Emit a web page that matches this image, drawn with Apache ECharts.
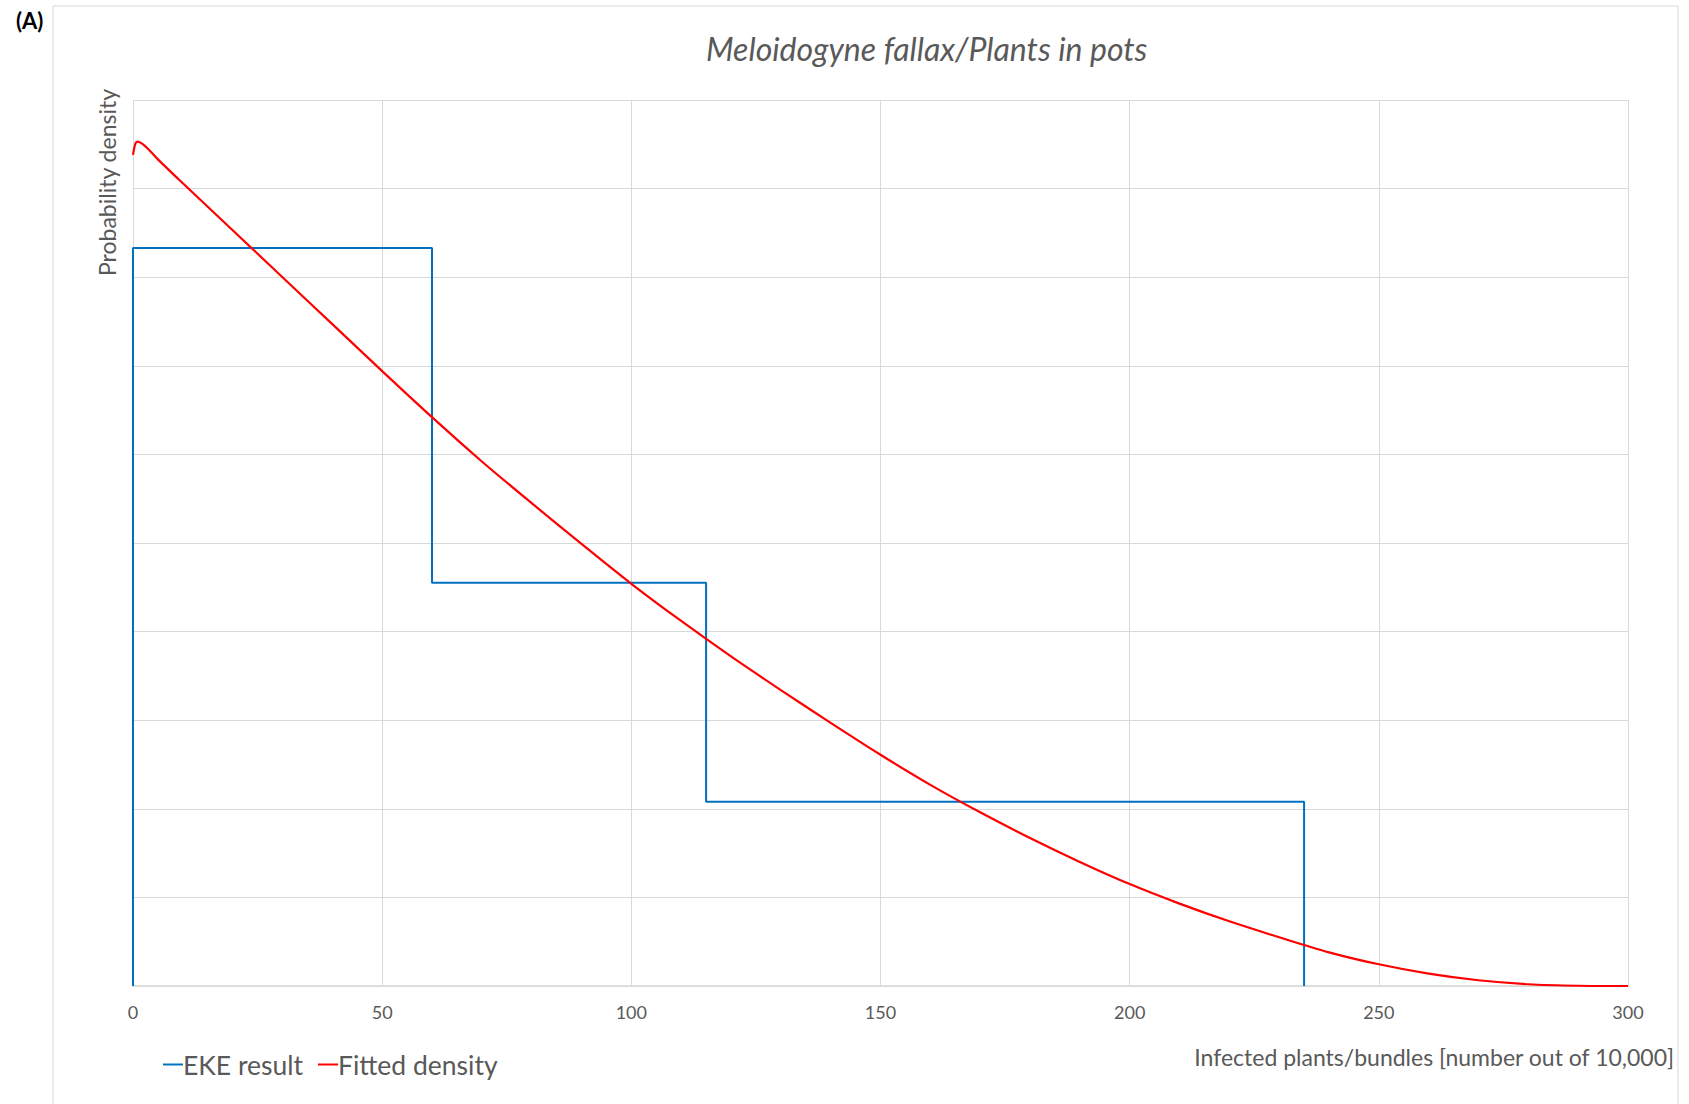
<!DOCTYPE html>
<html>
<head>
<meta charset="utf-8">
<title>Meloidogyne fallax/Plants in pots</title>
<script src="https://cdn.jsdelivr.net/npm/echarts@6/dist/echarts.min.js"></script>
<style>
  html, body { margin: 0; padding: 0; background: #fff; }
  #chart { width: 1689px; height: 1104px; }
</style>
</head>
<body>
<div id="chart"></div>
<script>
  // x tick labels
  var xTicks = [0, 50, 100, 150, 200, 250, 300]

  // EKE result (step shape)
  var ekeX = [0, 0, 60, 60, 115, 115, 235, 235]
  var ekeY = [0, 0.00833, 0.00833, 0.00455, 0.00455, 0.00208, 0.00208, 0]

  // fitted density
  var fitX = [0, 0.5, 1, 2, 3, 5, 10, 20, 30, 40, 50, 60, 70, 80, 90, 100, 110, 120, 130, 140, 150,
    160, 170, 180, 190, 200, 210, 220, 230, 240, 250, 260, 270, 280, 290, 300]
  var fitY = [0.00938, 0.00951, 0.00953, 0.00950, 0.00945, 0.00933, 0.00906, 0.00853, 0.00800, 0.00747, 0.00694,
    0.00642, 0.00592, 0.00545, 0.00499, 0.00454, 0.00412, 0.00372, 0.00334, 0.00297, 0.00261,
    0.00227, 0.00196, 0.00167, 0.00140, 0.00115, 0.00093, 0.00073, 0.00055, 0.00038, 0.000245,
    0.00014, 0.000065, 0.00002, 0.000003, 0]

  var toPairs = function(xs, ys){
    return xs.map(function(x, i){ return [x, ys[i]] })
  }

  var font = 'Lato, "Open Sans", sans-serif'
  var grey = '#595959'

  var chart = echarts.init(document.getElementById('chart'), null, { renderer: 'svg' })

  var option = {
    backgroundColor: '#fff',
    animation: false,
    title: {
      text: 'Meloidogyne fallax/Plants in pots',
      left: 701,
      top: 27,
      textStyle: { fontFamily: font, fontStyle: 'italic', fontWeight: 'normal', fontSize: 32, color: grey }
    },
    legend: {
      left: 158,
      top: 1046,
      itemWidth: 20,
      itemHeight: 2,
      itemGap: 15,
      icon: 'rect',
      textStyle: { fontFamily: font, fontSize: 26.5, color: grey, padding: [0, 0, 0, -5] },
      data: ['EKE result', 'Fitted density']
    },
    grid: { left: 133, right: 61, top: 100, bottom: 118 },
    xAxis: {
      type: 'value',
      min: 0,
      max: 300,
      interval: 50,
      axisLine: { show: true, lineStyle: { color: '#d9d9d9', width: 1.5 } },
      axisTick: { show: false },
      axisLabel: {
        margin: 17,
        fontFamily: font, fontSize: 18, color: grey,
        customValues: xTicks
      },
      splitLine: { show: true, lineStyle: { color: '#d9d9d9', width: 1 } }
    },
    yAxis: {
      type: 'value',
      min: 0,
      max: 0.01,
      interval: 0.001,
      axisLine: { show: false },
      axisTick: { show: false },
      axisLabel: { show: false },
      splitLine: { show: true, lineStyle: { color: '#d9d9d9', width: 1 } }
    },
    graphic: [
      // outer chart frame
      {
        type: 'rect',
        shape: { x: 53, y: 6, width: 1625, height: 1110 },
        style: { fill: 'none', stroke: '#d9d9d9', lineWidth: 1 },
        silent: true
      },
      {
        type: 'text',
        left: 16,
        top: 9,
        style: { text: '(A)', font: 'bold 22px ' + font, fill: '#000' }
      },
      {
        type: 'text',
        x: 107,
        y: 276,
        rotation: Math.PI / 2,
        style: { text: 'Probability density', font: '23px ' + font, fill: grey, textVerticalAlign: 'middle' }
      },
      {
        type: 'text',
        right: 14,
        top: 1045,
        style: { text: 'Infected plants/bundles [number out of 10,000]', font: '23px ' + font, fill: grey }
      }
    ],
    series: [
      {
        name: 'EKE result',
        type: 'line',
        data: toPairs(ekeX, ekeY),
        showSymbol: false,
        color: '#0070c0',
        lineStyle: { width: 2, color: '#0070c0' }
      },
      {
        name: 'Fitted density',
        type: 'line',
        data: toPairs(fitX, fitY),
        smooth: 0.3,
        showSymbol: false,
        color: '#ff0000',
        lineStyle: { width: 2.2, color: '#ff0000' }
      }
    ]
  }

  chart.setOption(option)
</script>
</body>
</html>
